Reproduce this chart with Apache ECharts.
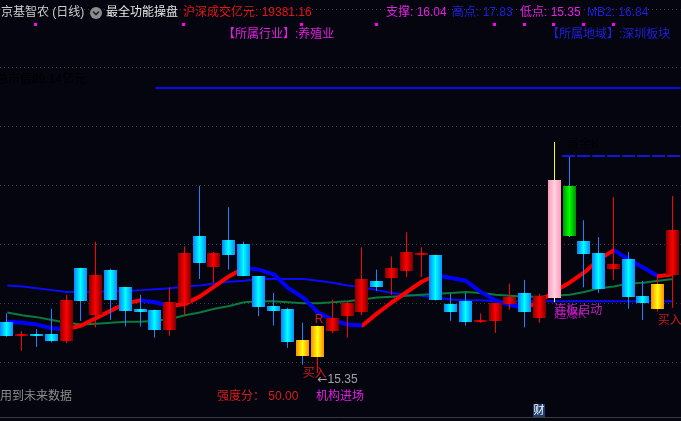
<!DOCTYPE html>
<html><head><meta charset="utf-8">
<script src="https://cdn.jsdelivr.net/npm/echarts@6/dist/echarts.min.js"></script>
<style>html,body{margin:0;padding:0;background:#05050f;}#c{width:681px;height:421px;}</style>
</head><body><div id="c"></div>
<script>
// ---- data ----
// [open, close, low, high]
const candles = [
 [15.90,15.75,15.74,15.99],[15.76,15.77,15.59,15.80],[15.77,15.75,15.63,15.82],[15.77,15.69,15.68,16.04],
 [15.69,16.13,15.67,16.19],[16.48,16.12,15.91,16.48],[15.97,16.40,15.84,16.76],[16.46,16.13,15.92,16.47],
 [16.27,16.02,15.85,16.27],[16.04,16.01,15.85,16.19],[16.03,15.81,15.73,16.03],[15.81,16.11,15.75,16.27],
 [16.10,16.64,15.97,16.71],[16.82,16.53,16.36,17.36],[16.49,16.64,16.32,16.65],[16.78,16.62,16.46,17.13],
 [16.74,16.39,16.39,16.76],[16.39,16.06,15.96,16.39],[16.07,16.02,15.86,16.21],[16.04,15.68,15.62,16.05],
 [15.70,15.53,15.44,15.89],[15.52,15.86,15.35,15.86],[15.80,15.94,15.78,16.14],[15.96,16.10,15.73,16.12],
 [16.01,16.36,15.97,16.70],[16.34,16.27,16.23,16.46],[16.37,16.48,16.19,16.60],[16.45,16.65,16.38,16.86],
 [16.63,16.64,16.38,16.70],[16.62,16.13,16.13,16.62],[16.09,16.01,15.91,16.20],[16.12,15.90,15.86,16.21],
 [15.91,15.92,15.89,15.99],[15.91,16.10,15.78,16.10],[16.09,16.17,16.03,16.31],[16.21,16.01,15.84,16.35],
 [15.94,16.18,15.89,16.20],[16.16,17.42,16.11,17.83],[17.36,16.82,16.81,17.67],[16.77,16.63,16.27,16.99],
 [16.64,16.25,16.21,16.81],[16.47,16.52,16.35,17.24],[16.57,16.17,16.04,16.65],[16.18,16.10,15.92,16.34],
 [16.04,16.31,16.01,16.41],[16.40,16.89,16.05,17.25]
];
const maBlue = [16.29,16.28,16.26,16.24,16.22,16.22,16.22,16.23,16.23,16.24,16.25,16.26,16.28,16.29,16.31,16.33,16.34,16.36,16.36,16.36,
 16.36,16.34,16.32,16.29,16.27,16.24,16.21,16.19,16.18,16.16,16.14,16.13,16.13,16.12,16.12,16.12,16.12,16.12,16.12,16.12,
 16.12,16.12,16.12,16.12,16.12,16.12];
const maGreen = [16.00,15.97,15.95,15.92,15.89,15.87,15.88,15.89,15.90,15.90,15.91,15.93,15.97,16.00,16.04,16.07,16.11,16.12,16.12,16.11,
 16.10,16.10,16.11,16.12,16.14,16.16,16.17,16.18,16.19,16.20,16.21,16.22,16.21,16.19,16.18,16.17,16.17,16.18,16.19,16.22,
 16.26,16.28,16.31,16.32,16.34,16.36];
const trend = [15.90,15.89,15.87,15.83,15.82,15.86,15.94,16.02,16.10,16.13,16.11,16.07,16.09,16.17,16.28,16.39,16.48,16.46,16.41,16.26,
 16.16,16.00,15.92,15.87,15.86,15.99,16.11,16.22,16.33,16.40,16.37,16.34,16.22,16.13,16.08,16.05,16.12,16.23,16.32,16.43,
 16.57,16.67,16.57,16.48,16.39,16.41];
const resistLevel = 18.41, resistStart = 11;     // solid blue level
const mbLevel = 17.68, mbStart = 38.5;           // dashed blue level
const kinds = {21:'orange', 22:'orange', 38:'pink', 39:'green', 45:'orange'};
const buyIdx = [21, 45];
const rIdx = [22];
const lowIdx = 22;
const startIdx = 38;
const goldIdx = 39;

// ---- styles ----
const MIX = "'Liberation Sans','Noto Sans CJK SC'";
const MAG = '#e61ee6', BLU = '#1e1ee0', RED = '#e81414';
function grad(a, b, c) {
  return {type:'linear', x:0, y:0, x2:1, y2:0, colorStops:[{offset:0,color:a},{offset:0.5,color:b},{offset:1,color:c}]};
}
const fills = {
  red: grad('#8c0000', '#ff0000', '#7a0000'),
  cyan: grad('#0a82ff', '#00ffff', '#0a8cff'),
  orange: grad('#ff8c00', '#ffff10', '#ff8c00'),
  pink: grad('#ff98bc', '#ffd2e2', '#ff98bc'),
  green: grad('#009600', '#00ff00', '#008c00')
};
const N = candles.length;
const candleData = candles.map((c, i) => [i + 1].concat(c));

function renderCandle(params, api) {
  const x = api.value(0), o = api.value(1), c = api.value(2), l = api.value(3), h = api.value(4);
  const pO = api.coord([x, o]), pC = api.coord([x, c]), pL = api.coord([x, l]), pH = api.coord([x, h]);
  const cx = Math.round(pO[0]) - 0.5;
  const up = c >= o;
  const kind = kinds[x] || (up ? 'red' : 'cyan');
  const top = Math.round(Math.min(pO[1], pC[1]));
  const bot = Math.round(Math.max(pO[1], pC[1]));
  const bh = Math.max(bot - top, 2);
  const wUp = kind === 'pink' ? '#ffff00' : (up ? '#ff0000' : '#1e82ff');
  const wDn = kind === 'pink' ? '#ffffff' : wUp;
  return {type:'group', children:[
    {type:'line', shape:{x1:cx, y1:pH[1], x2:cx, y2:top}, style:{stroke:wUp, lineWidth:1}},
    {type:'line', shape:{x1:cx, y1:top + bh, x2:cx, y2:pL[1]}, style:{stroke:wDn, lineWidth:1}},
    {type:'rect', shape:{x:cx - 6.5, y:top, width:13, height:bh}, style:{fill:fills[kind]}}
  ]};
}

// trend colour pieces from rising/falling
const pieces = [];
for (let i = 0; i < N - 1; i++) {
  const col = trend[i + 1] > trend[i] ? '#ff0000' : '#0000ff';
  if (i === N - 2) pieces.push({gte:i + 1, lte:i + 2, color:col});
  else pieces.push({gte:i + 1, lt:i + 2, color:col});
}

// signal labels
const labelPts = [];
buyIdx.forEach(i => labelPts.push({value:[i, candles[i-1][2]],
  label:{show:true, formatter:'买入', position:'right', distance:-1, offset:[0, 9], color:'#ff1e1e', fontSize:12, fontFamily:MIX}}));
rIdx.forEach(i => labelPts.push({value:[i, candles[i-1][3]],
  label:{show:true, formatter:'R', position:'top', distance:0, offset:[1, 1], color:'#ff2020', fontSize:12, fontFamily:MIX}}));
labelPts.push({value:[lowIdx, candles[lowIdx-1][2]],
  label:{show:true, formatter:'{a|←}{b|' + candles[lowIdx-1][2].toFixed(2) + '}', position:'right', distance:-1, offset:[0, 7],
    rich:{a:{color:'#d0d0d0', fontSize:12, fontFamily:"'DejaVu Sans'"}, b:{color:'#c8c8c8', fontSize:12, fontFamily:"'Liberation Sans'"}}}});
labelPts.push({value:[startIdx, candles[startIdx-1][2]],
  label:{show:true, formatter:'连板启动', position:'right', distance:-1, offset:[0, 8], color:'#f028f0', fontSize:12, fontFamily:MIX}});
labelPts.push({value:[startIdx, candles[startIdx-1][2]],
  label:{show:true, formatter:'超爆K', position:'right', distance:-1, offset:[0, 12], color:'#d214d2', fontSize:12, fontFamily:MIX}});
labelPts.push({value:[goldIdx, candles[goldIdx-1][3]],
  label:{show:true, formatter:'黄金K', position:'right', distance:-3, offset:[0, -12], color:'#000000', fontSize:12, fontFamily:MIX}});

function T(text, x, y, fill, size, family) {
  return {type:'text', x:x, y:y, z:100, silent:true,
    style:{text:text, fill:fill, font:(size || 12) + 'px ' + (family || MIX), verticalAlign:'middle', align:'left'}};
}
const dotsX = [34, 182, 300, 375, 493, 523, 552, 582, 612];
const graphics = [
  T('京基智农 (日线)', 1, 13, '#cccccc'),
  {type:'circle', z:100, shape:{cx:96, cy:13, r:6}, style:{fill:'#8c8c8c'}},
  {type:'polyline', z:101, shape:{points:[[93,11.5],[96,14.5],[99,11.5]]}, style:{stroke:'#202020', lineWidth:1.6, fill:null}},
  T('最全功能操盘', 106, 13, '#e6e6e6'),
  T('沪深成交亿元: 19381.16', 183, 13, RED),
  T('支撑: 16.04', 386, 13, MAG),
  T('高点: 17.83', 452, 13, BLU),
  T('低点: 15.35', 520, 13, MAG),
  T('MB2: 16.84', 587, 13, BLU),
  T('【所属行业】:养殖业', 223, 35, MAG),
  T('【所属地域】:深圳板块', 547, 35, BLU),
  T('总市值89.14亿元', -4, 80, '#000000'),
  T('用到未来数据', 0, 397, '#8c8c8c'),
  T('强度分： 50.00', 217, 397, '#d81e1e'),
  T('机构进场', 316, 397, MAG),
  {type:'rect', z:100, shape:{x:533, y:404, width:12, height:13}, style:{fill:'#1c3e70'}},
  T('财', 533.5, 411, '#ffffff', 11),
  {type:'line', z:100, shape:{x1:0, y1:417.5, x2:681, y2:417.5}, style:{stroke:'#3a3a3a', lineWidth:1}}
].concat(dotsX.map(x => ({type:'rect', z:100, shape:{x:x, y:23, width:3, height:3}, style:{fill:'#ff00ff'}})));

const option = {
  backgroundColor:'#05050f',
  animation:false,
  grid:{left:-1.75, right:0.55, top:9, bottom:0},
  xAxis:{type:'value', min:0.5, max:N + 0.5, show:false},
  yAxis:[
    {type:'value', min:14.835, max:19.258, show:false},
    {type:'value', min:0, max:6.99, interval:1, axisLine:{show:false}, axisTick:{show:false}, axisLabel:{show:false},
      splitLine:{show:true, lineStyle:{color:'#3c3c3c', type:[1, 3], width:1}}}
  ],
  visualMap:{type:'piecewise', show:false, dimension:0, seriesIndex:2, pieces:pieces},
  graphic:graphics,
  series:[
    {type:'line', name:'MA1', data:maBlue.map((v, i) => [i + 1, v]), showSymbol:false, symbol:'none', z:2,
      lineStyle:{color:'#0a0aff', width:2}},
    {type:'line', name:'MA2', data:maGreen.map((v, i) => [i + 1, v]), showSymbol:false, symbol:'none', z:2,
      lineStyle:{color:'#0a7a3c', width:2}},
    {type:'line', name:'trend', data:trend.map((v, i) => [i + 1, v]), showSymbol:false, symbol:'none', z:2,
      lineStyle:{width:4}},
    {type:'line', name:'resist', data:[[resistStart, resistLevel], [N + 0.5, resistLevel]], showSymbol:false, symbol:'none', z:2,
      lineStyle:{color:'#0a0af0', width:2}},
    {type:'line', name:'mb', data:[[mbStart, mbLevel], [N + 0.5, mbLevel]], showSymbol:false, symbol:'none', z:2,
      lineStyle:{color:'#1414dc', width:2, type:[13, 2]}},
    {type:'custom', name:'K', data:candleData, renderItem:renderCandle, z:5, encode:{x:0, y:[1,2,3,4]}},
    {type:'scatter', name:'sig', data:labelPts, symbolSize:1, itemStyle:{color:'rgba(0,0,0,0)'}, z:10, silent:true}
  ]
};
const chart = echarts.init(document.getElementById('c'));
chart.setOption(option);
</script>
</body></html>
